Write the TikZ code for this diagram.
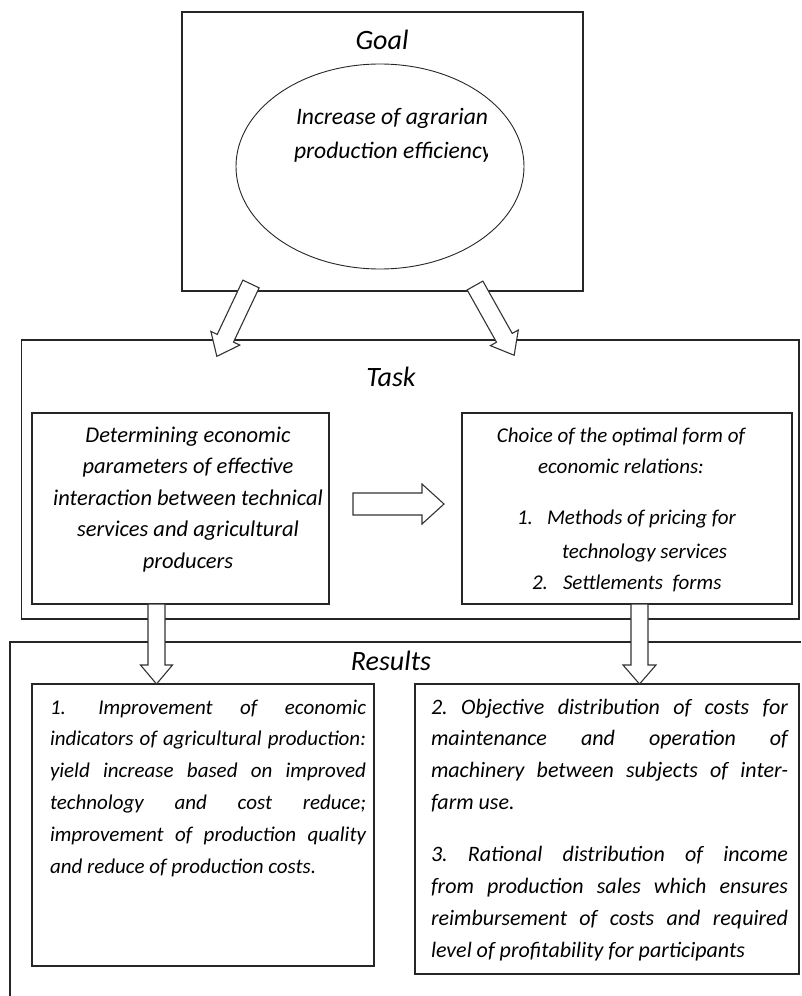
\documentclass[tikz,border=0pt]{standalone}
\usepackage{fontspec}
\setmainfont{Carlito}
\usetikzlibrary{shapes.geometric}
\frenchspacing

% block arrow: #1 tail point, #2 rotation, #3 length, #4 half shaft, #5 half head, #6 head length
\newcommand\blockarrowat[6]{%
  \draw[blk,shift={#1},rotate=#2]
    (0,-#4) -- ({#3-#6},-#4) -- ({#3-#6},-#5) -- (#3,0) -- ({#3-#6},#5)
    -- ({#3-#6},#4) -- (0,#4) -- cycle;}
% one justified line of a given width
\newcommand\justline[2]{\makebox[#1][s]{#2}}

\begin{document}
\begin{tikzpicture}[x=1pt,y=-1pt,
  frame/.style={draw=black!85,line width=1.2pt},
  box/.style={frame,anchor=north west,inner sep=0pt,outer sep=0pt},
  blk/.style={draw=black!80,line width=1.1pt,fill=white,line join=miter},
  title/.style={font=\fontsize{28}{34}\selectfont\itshape,inner sep=0pt},
  txt/.style={inner sep=0pt,outer sep=0pt}]
\useasboundingbox (0,0) rectangle (801,996);

% frames
\node[box,minimum width=401,minimum height=279] (goal) at (182,12) {};
\node[draw=black!85,line width=0.9pt,ellipse,minimum width=288,minimum height=205,inner sep=0pt] (aim) at (380,166.5) {};
\node[box,minimum width=777.5,minimum height=279] (task) at (21.5,340) {};
\node[box,minimum width=297,minimum height=191] (param) at (32,413) {};
\node[box,minimum width=330,minimum height=191] (choice) at (462,413) {};
\draw[frame] (801,642) -- (10,642) -- (10,996);
\node[box,minimum width=342,minimum height=282] (res1) at (32,684) {};
\node[box,minimum width=384,minimum height=290] (res2) at (415,684) {};

% block arrows
\blockarrowat{(251,284)}{-115.3}{80}{9}{16}{20}
\blockarrowat{(475,285.5)}{-60.7}{80}{9}{16}{20}
\blockarrowat{(353,504)}{0}{91}{11}{20}{22}
\blockarrowat{(156.5,604)}{-90}{80}{8.5}{16}{19}
\blockarrowat{(639.5,604)}{-90}{80}{8.5}{16.5}{19}

% titles
\node[title] (goalt) at (382,40) {Goal};
\node[title] (taskt) at (391,377) {Task};
\node[title] (rest) at (391,661) {Results};

% goal text, cut off at the right as in a fixed text frame
\begin{scope}
  \clip (250,90) rectangle (487,175);
  \begin{scope}[font=\fontsize{23.6}{23.6}\selectfont\itshape]
    \node[txt,anchor=base west] (aim1) at (296,124) {Increase of agrarian};
    \node[txt,anchor=base west] (aim2) at (294,158) {production efficiency};
  \end{scope}
\end{scope}

% task, left
\begin{scope}[font=\fontsize{22.5}{22.5}\selectfont\itshape]
  \node[txt,anchor=base] (p1) at (188,442) {Determining economic};
  \node[txt,anchor=base] (p2) at (188,473.5) {parameters of effective};
  \node[txt,anchor=base] (p3) at (188,505) {interaction between technical};
  \node[txt,anchor=base] (p4) at (188,536.5) {services and agricultural};
  \node[txt,anchor=base] (p5) at (188,568) {producers};
\end{scope}

% task, right
\begin{scope}[font=\fontsize{21}{21}\selectfont\itshape]
  \node[txt,anchor=base] (c1) at (621,442) {Choice of the optimal form of};
  \node[txt,anchor=base] (c2) at (621,473) {economic relations:};
  \node[txt,anchor=base west] (c3n) at (517,524) {1.};
  \node[txt,anchor=base west] (c3) at (547,524) {Methods of pricing for};
  \node[txt,anchor=base west] (c4) at (562,558) {technology services};
  \node[txt,anchor=base west] (c5n) at (532,589) {2.};
  \node[txt,anchor=base west] (c5) at (563,589) {Settlements\ \ forms};
\end{scope}

% results, left
\begin{scope}[font=\fontsize{21}{21}\selectfont\itshape]
  \node[txt,anchor=base west] (a1) at (50,714) {\justline{316pt}{1.\hspace{5pt} Improvement of economic}};
  \node[txt,anchor=base west] (a2) at (50,745.8) {\justline{316pt}{indicators of agricultural production:}};
  \node[txt,anchor=base west] (a3) at (50,777.6) {\justline{316pt}{yield increase based on improved}};
  \node[txt,anchor=base west] (a4) at (50,809.4) {\justline{316pt}{technology and cost reduce;}};
  \node[txt,anchor=base west] (a5) at (50,841.2) {\justline{316pt}{improvement of production quality}};
  \node[txt,anchor=base west] (a6) at (50,873) {and reduce of production costs.};
\end{scope}

% results, right
\begin{scope}[font=\fontsize{22}{22}\selectfont\itshape]
  \node[txt,anchor=base west] (b1) at (431,714) {\justline{357pt}{2. Objective distribution of costs for}};
  \node[txt,anchor=base west] (b2) at (431,745.5) {\justline{357pt}{maintenance and operation of}};
  \node[txt,anchor=base west] (b3) at (431,777) {\justline{357pt}{machinery between subjects of inter-}};
  \node[txt,anchor=base west] (b4) at (431,809) {farm use.};
  \node[txt,anchor=base west] (b5) at (431,861) {\justline{357pt}{3. Rational distribution of income}};
  \node[txt,anchor=base west] (b6) at (431,893) {\justline{357pt}{from production sales which ensures}};
  \node[txt,anchor=base west] (b7) at (431,925) {\justline{357pt}{reimbursement of costs and required}};
  \node[txt,anchor=base west] (b8) at (431,957) {level of profitability for participants};
\end{scope}
\end{tikzpicture}
\end{document}
